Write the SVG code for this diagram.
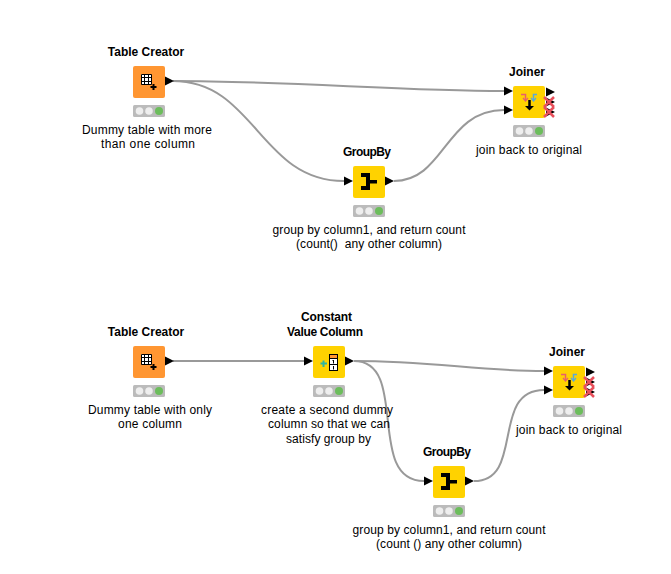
<svg xmlns="http://www.w3.org/2000/svg" xmlns:xlink="http://www.w3.org/1999/xlink" width="671" height="574" viewBox="0 0 671 574">
  <style>
    text { font-family: "Liberation Sans", Arial, sans-serif; font-size: 12px; fill: #000; text-anchor: middle; white-space: pre; }
    .title { font-weight: bold; }
    .edge { fill: none; stroke: #999; stroke-width: 2; }
    .port { fill: #000; }
    .cross { stroke: #e8505b; stroke-width: 2.500; fill: none; }
    .glyph { fill: none; stroke: #000; }
  </style>
  <defs>
    <g id="status">
      <rect x="0" y="0" width="32" height="12" rx="1.500" fill="#bbbbbb"/>
      <circle cx="6.500" cy="6" r="3.800" fill="#eeeeee"/>
      <circle cx="16" cy="6" r="3.800" fill="#eeeeee"/>
      <circle cx="26" cy="6" r="4" fill="#6cbd5c"/>
    </g>
    <polygon id="tri" class="port" points="0,-4.500 9,0 0,4.500"/>
    <g id="groupby-icon">
      <rect x="8" y="7" width="9" height="4" fill="#000"/>
      <rect x="8" y="20" width="9" height="4" fill="#000"/>
      <rect x="13" y="7" width="4" height="17" fill="#000"/>
      <rect x="17" y="14" width="7" height="3.500" fill="#000"/>
    </g>
    <g id="creator-icon">
      <rect x="8" y="8" width="10" height="10" fill="#fff"/>
      <path class="glyph" d="M8.500 8.500H18.500V18.500H8.500ZM8.500 11.500H18.500M8.500 15.500H18.500M11.500 8.500V18.500M15.500 8.500V18.500"/>
      <path d="M20.500 18v6M17.500 21h6" stroke="#000" stroke-width="2" fill="none"/>
    </g>
    <g id="joiner-icon">
      <path d="M8 8.500H12.500V14" fill="none" stroke="#e8606a" stroke-width="1.500"/>
      <path d="M10 12L12.500 15L15 12" fill="none" stroke="#e8606a" stroke-width="1.200"/>
      <path d="M24 8.500H20.500V14" fill="none" stroke="#5aa9dc" stroke-width="1.500"/>
      <path d="M18 12L20.500 15L23 12" fill="none" stroke="#5aa9dc" stroke-width="1.200"/>
      <path d="M16.500 14V21" stroke="#000" stroke-width="2.500" fill="none"/>
      <polygon points="12,20 21,20 16.500,24.500" fill="#000"/>
    </g>
    <g id="crossed">
      <use xlink:href="#tri" x="-3" y="0"/>
      <path class="cross" d="M-5 -5L5 5M5 -5L-5 5"/>
    </g>
  </defs>

  <g id="connectors">
    <path class="edge" d="M173 81C290 81 400 91 504 91"/>
    <path class="edge" d="M173 81C255 81 260 181 344 181"/>
    <path class="edge" d="M394 181C445 181 445 110 504 110"/>
    <path class="edge" d="M173 361H304"/>
    <path class="edge" d="M354 361C430 361 480 371 544 371"/>
    <path class="edge" d="M354 361C410 361 365 481 424 481"/>
    <path class="edge" d="M474 481C525 481 490 390 544 390"/>
  </g>

  <g id="table-creator-1">
    <text class="title" x="146" y="56">Table Creator</text>
    <rect x="133" y="66" width="32" height="32" rx="2" fill="#ff9632"/>
    <use xlink:href="#creator-icon" x="133" y="66"/>
    <use xlink:href="#tri" x="165" y="81"/>
    <use xlink:href="#status" x="133" y="105"/>
    <text x="147" y="134" textLength="130">Dummy table with more</text>
    <text x="148" y="148" textLength="94">than one column</text>
  </g>

  <g id="groupby-1">
    <text class="title" x="367" y="156" textLength="48">GroupBy</text>
    <rect x="353" y="166" width="32" height="32" rx="2" fill="#ffd200"/>
    <use xlink:href="#groupby-icon" x="353" y="166"/>
    <use xlink:href="#tri" x="344" y="181"/>
    <use xlink:href="#tri" x="385" y="181"/>
    <use xlink:href="#status" x="353" y="205"/>
    <text x="369" y="234" textLength="193">group by column1, and return count</text>
    <text x="369" y="248" textLength="146">(count()  any other column)</text>
  </g>

  <g id="joiner-1">
    <text class="title" x="527" y="76">Joiner</text>
    <rect x="513" y="86" width="32" height="32" rx="2" fill="#ffd200"/>
    <use xlink:href="#joiner-icon" x="513" y="86"/>
    <use xlink:href="#tri" x="504" y="91"/>
    <use xlink:href="#tri" x="504" y="110"/>
    <use xlink:href="#tri" x="546" y="92"/>
    <use xlink:href="#crossed" x="549" y="102"/>
    <use xlink:href="#crossed" x="549" y="112"/>
    <use xlink:href="#status" x="513" y="125"/>
    <text x="529" y="154" textLength="106">join back to original</text>
  </g>

  <g id="table-creator-2">
    <text class="title" x="146" y="336">Table Creator</text>
    <rect x="133" y="346" width="32" height="32" rx="2" fill="#ff9632"/>
    <use xlink:href="#creator-icon" x="133" y="346"/>
    <use xlink:href="#tri" x="165" y="361"/>
    <use xlink:href="#status" x="133" y="385"/>
    <text x="150" y="414" textLength="124">Dummy table with only</text>
    <text x="150" y="428" textLength="64">one column</text>
  </g>

  <g id="constant-value-column">
    <text class="title" x="326.500" y="321" textLength="51">Constant</text>
    <text class="title" x="325" y="336" textLength="76">Value Column</text>
    <rect x="313" y="346" width="32" height="32" rx="2" fill="#ffd200"/>
    <path d="M323.500 360.500v6.500M320.500 363.500h6.500" stroke="#2fb5a0" stroke-width="2" fill="none"/>
    <rect x="329.500" y="354.500" width="8" height="16" fill="#fff" stroke="#000"/>
    <rect x="330" y="355" width="7" height="3.500" fill="#ff9632"/>
    <path d="M329.500 358.500h8M329.500 364.500h8M333.500 360v3.500M333.500 366v3.500M332.500 361l1-1" stroke="#000" fill="none"/>
    <use xlink:href="#tri" x="304" y="361"/>
    <use xlink:href="#tri" x="345" y="361"/>
    <use xlink:href="#status" x="313" y="385"/>
    <text x="327" y="414" textLength="132">create a second dummy</text>
    <text x="329" y="428" textLength="122">column so that we can</text>
    <text x="328.500" y="443" textLength="85">satisfy group by</text>
  </g>

  <g id="groupby-2">
    <text class="title" x="447" y="456" textLength="48">GroupBy</text>
    <rect x="433" y="466" width="32" height="32" rx="2" fill="#ffd200"/>
    <use xlink:href="#groupby-icon" x="433" y="466"/>
    <use xlink:href="#tri" x="424" y="481"/>
    <use xlink:href="#tri" x="465" y="481"/>
    <use xlink:href="#status" x="433" y="505"/>
    <text x="449" y="534" textLength="193">group by column1, and return count</text>
    <text x="449" y="548" textLength="146">(count () any other column)</text>
  </g>

  <g id="joiner-2">
    <text class="title" x="567" y="356">Joiner</text>
    <rect x="553" y="366" width="32" height="32" rx="2" fill="#ffd200"/>
    <use xlink:href="#joiner-icon" x="553" y="366"/>
    <use xlink:href="#tri" x="544" y="371"/>
    <use xlink:href="#tri" x="544" y="390"/>
    <use xlink:href="#tri" x="586" y="372"/>
    <use xlink:href="#crossed" x="589" y="382"/>
    <use xlink:href="#crossed" x="589" y="392"/>
    <use xlink:href="#status" x="553" y="405"/>
    <text x="569" y="434" textLength="106">join back to original</text>
  </g>
</svg>
